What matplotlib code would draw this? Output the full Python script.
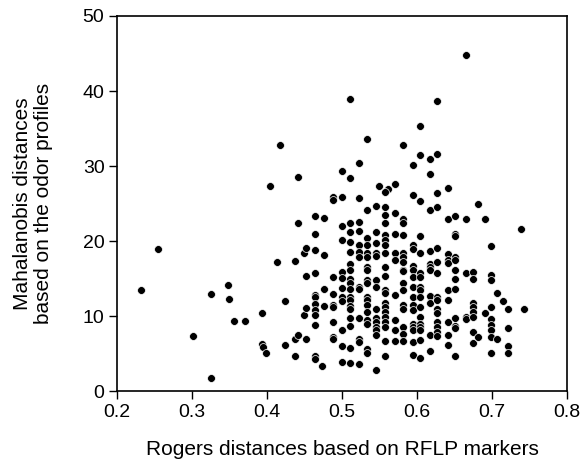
import matplotlib
matplotlib.use("Agg")
import matplotlib.pyplot as plt
import numpy as np

plt.rcParams["font.family"] = ["Liberation Sans", "DejaVu Sans"]

# scattered points left of the dense block (x, y)
sparse_x = [0.232, 0.255, 0.302, 0.325, 0.325, 0.348, 0.349, 0.356, 0.371, 0.394,
            0.394, 0.395, 0.399, 0.404, 0.414, 0.418, 0.424, 0.424, 0.438, 0.441,
            0.441, 0.438, 0.441, 0.438, 0.449, 0.452, 0.452, 0.449, 0.452, 0.452,
            0.464, 0.476, 0.464, 0.464, 0.476, 0.464, 0.464, 0.464, 0.464, 0.464,
            0.464, 0.464, 0.464, 0.464, 0.474, 0.476, 0.476, 0.549, 0.561]
sparse_y = [13.5, 19.0, 7.3, 12.9, 1.8, 14.2, 12.3, 9.4, 9.4, 10.4,
            6.3, 5.9, 5.1, 27.3, 17.2, 32.8, 12.0, 6.1, 17.3, 22.4,
            28.6, 7.0, 7.5, 4.7, 10.1, 11.1, 15.4, 18.4, 19.1, 7.0,
            23.3, 23.1, 20.9, 18.8, 18.2, 15.8, 12.8, 12.5, 11.6, 10.8,
            10.1, 8.8, 4.7, 4.3, 3.3, 13.6, 11.4, 27.3, 26.9]

# the dense block falls in columns of near-equal Rogers distance
col_x = [0.488, 0.500, 0.511, 0.523, 0.534, 0.546, 0.558, 0.571, 0.581, 0.595,
         0.604, 0.618, 0.627, 0.642, 0.651, 0.666, 0.675, 0.682, 0.690, 0.698,
         0.707, 0.714, 0.721, 0.738, 0.743]
col_y = [
    [25.9, 25.5, 15.2, 13.0, 11.5, 11.2, 9.2, 7.2, 7.0],
    [29.4, 25.9, 22.0, 20.2, 15.9, 15.1, 13.7, 12.6, 12.0, 8.2, 6.0, 3.9],
    [38.9, 28.4, 22.4, 21.2, 19.9, 18.6, 16.9, 16.2, 14.9, 14.4, 13.6, 12.5,
     12.1, 11.3, 11.0, 9.8, 8.7, 5.8, 3.7],
    [30.4, 25.8, 22.6, 21.4, 19.5, 18.6, 17.9, 13.9, 13.6, 9.7, 7.0, 6.6, 3.6],
    [33.6, 24.1, 20.4, 19.5, 18.4, 17.9, 16.6, 16.1, 14.8, 14.4, 12.6, 12.1,
     11.5, 10.6, 9.5, 9.0, 5.6, 5.1],
    [24.7, 21.2, 19.7, 18.4, 18.0, 14.8, 13.9, 11.0, 9.7, 9.2, 8.6, 8.1, 7.5, 2.8],
    [26.6, 24.5, 23.5, 22.4, 20.8, 20.1, 19.5, 18.4, 16.6, 15.3, 13.5, 13.1,
     11.7, 11.2, 10.6, 9.9, 9.2, 8.6, 6.7, 4.7],
    [27.6, 23.7, 21.0, 18.4, 17.5, 12.8, 9.5, 8.1, 6.7],
    [32.8, 22.9, 22.4, 20.8, 18.4, 17.9, 17.2, 16.1, 16.0, 14.4, 13.5, 11.5,
     10.9, 8.6, 7.6, 6.7],
    [30.2, 26.2, 19.5, 19.0, 16.7, 16.1, 15.2, 13.9, 12.6, 11.5, 10.8, 9.0,
     8.6, 8.1, 6.6, 4.8],
    [35.4, 31.5, 25.3, 20.7, 18.4, 15.7, 15.2, 13.9, 13.5, 12.6, 11.2, 9.9,
     9.0, 8.6, 8.1, 6.8, 4.4],
    [31.0, 29.0, 24.1, 18.7, 17.0, 16.6, 16.2, 12.7, 11.7, 7.5, 5.4],
    [38.7, 31.6, 26.4, 24.5, 19.1, 17.2, 15.8, 12.6, 12.1, 11.0, 10.4, 9.2,
     8.6, 7.9, 7.3],
    [27.1, 23.0, 18.3, 17.5, 17.1, 13.5, 12.1, 9.2, 7.5, 6.1],
    [23.4, 21.0, 20.7, 17.9, 17.5, 16.1, 15.0, 13.6, 9.7, 8.7, 8.4, 4.7],
    [44.8, 22.9, 15.8, 9.9, 9.6],
    [15.9, 15.0, 11.8, 11.2, 10.6, 9.9, 7.9, 6.4],
    [24.9, 7.2],
    [22.9, 10.4],
    [19.4, 15.5, 14.8, 11.2, 9.6, 8.8, 8.1, 7.2, 5.1],
    [13.1, 7.0],
    [12.0],
    [10.9, 8.4, 6.0, 5.1],
    [21.6],
    [10.9],
]

x_ticks = [0.2, 0.3, 0.4, 0.5, 0.6, 0.7, 0.8]
y_ticks = [0, 10, 20, 30, 40, 50]

xs = list(sparse_x)
ys = list(sparse_y)
for cx, cys in zip(col_x, col_y):
    xs += [cx] * len(cys)
    ys += cys

fig = plt.figure(figsize=(5.84, 4.65), dpi=100)
ax = fig.add_axes([0.2003, 0.1591, 0.7706, 0.8065])
ax.scatter(xs, ys, s=32, c="black", edgecolors="white", linewidths=0.5, zorder=3)

ax.set_xlim(0.2, 0.8)
ax.set_ylim(0, 50)
ax.set_xticks(x_ticks)
ax.set_xticklabels([f"{t:.1f}" for t in x_ticks])
ax.set_yticks(y_ticks)
ax.tick_params(direction="out", length=6, width=1, labelsize=14, pad=3)
for sp in ax.spines.values():
    sp.set_linewidth(1.2)

ax.set_xlabel("Rogers distances based on RFLP markers", fontsize=15, labelpad=14)
ax.set_ylabel("Mahalanobis distances\nbased on the odor profiles", fontsize=15,
              linespacing=1.1)
ax.yaxis.set_label_coords(-0.143, 0.5)

fig.savefig("out.png", dpi=100)
